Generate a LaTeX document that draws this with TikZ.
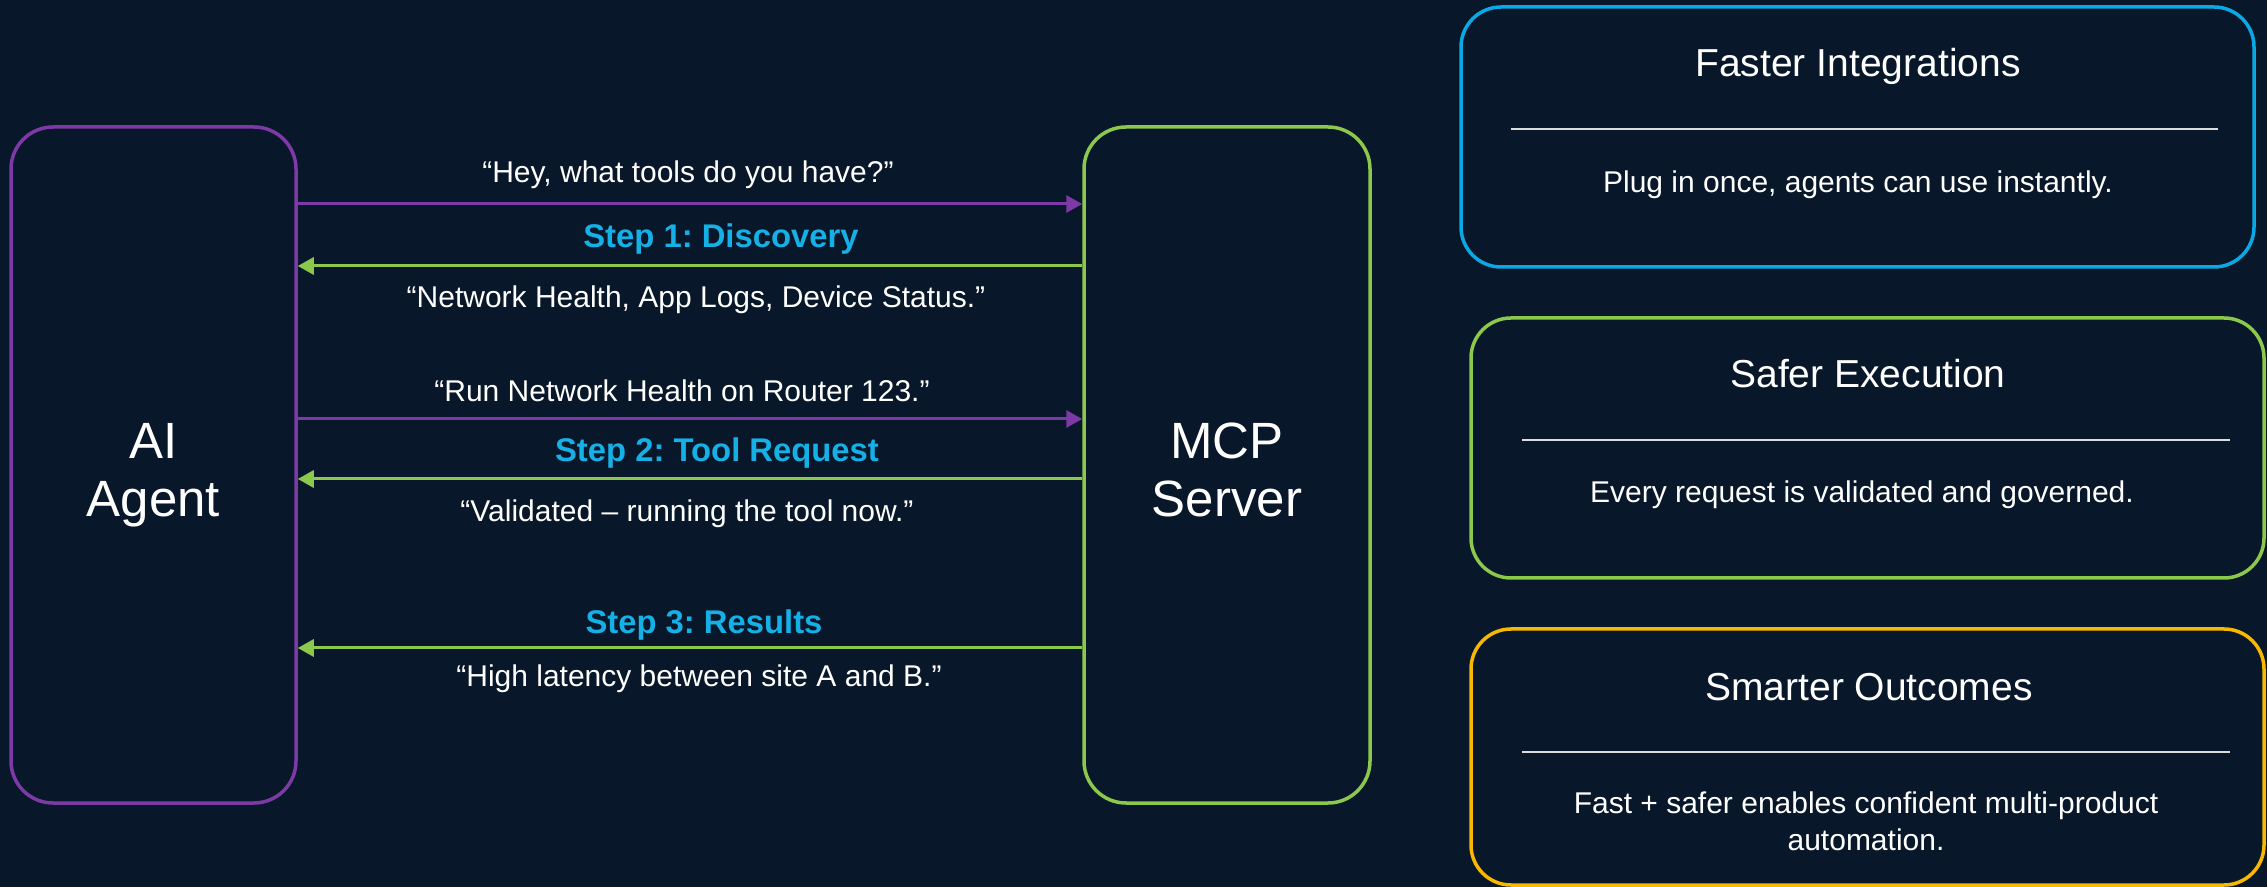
\documentclass[tikz,border=0pt]{standalone}
\usepackage{fontspec}
\setmainfont{Liberation Sans}
\usetikzlibrary{arrows.meta}
\frenchspacing
\definecolor{navy}{HTML}{081729}
\definecolor{agentpurple}{HTML}{7D3AA6}
\definecolor{mcpgreen}{HTML}{8CC84B}
\definecolor{stepblue}{HTML}{14B0E6}
\definecolor{fastblue}{HTML}{0AA8E4}
\definecolor{smartyellow}{HTML}{F9B800}
\begin{document}
\begin{tikzpicture}[x=0.5pt,y=-0.5pt,
actor/.style={
draw,
line width=1.75pt,
rounded corners=21pt,
inner sep=0pt,
minimum width=142.5pt,
minimum height=338pt,
text height=52pt,
text depth=0pt,
text=white,
align=center,
font=\fontsize{25.5}{29}\selectfont
},
ask/.style={%
draw=agentpurple,
line width=1.5pt,
-{Triangle[length=8pt,width=8.5pt]}
},
reply/.style={%
draw=mcpgreen,
line width=1.5pt,
-{Triangle[length=8pt,width=8.5pt]}
},
msg/.style={%
anchor=base,
text=white,
font=\fontsize{15}{18}\selectfont
},
stepname/.style={%
anchor=base,
text=stepblue,
font=\fontsize{16.4}{20}\selectfont\bfseries
},
card/.style={%
draw,
line width=1.75pt,
rounded corners=20pt,
inner sep=0pt,
minimum width=396.5pt,
minimum height=130pt
},
cardtitle/.style={%
anchor=base,
text=white,
font=\fontsize{19.5}{23}\selectfont
},
cardtext/.style={%
anchor=base,
text=white,
align=center,
font=\fontsize{15}{18.5}\selectfont
},
sep/.style={
draw=white!85!navy,
line width=1pt
}
]

\fill[navy](0,0)rectangle(2267,887);
\useasboundingbox(0,0)rectangle(2267,887);

%the two sides
\node[actor,draw=agentpurple](agent)at(153.5,465){AI\\Agent};
\node[actor,draw=mcpgreen,minimum width=143pt](mcp)at(1227,465){MCP\\Server};

%rows of the exchange
\coordinate(r1)at(0,204);
\coordinate(r2)at(0,266);
\coordinate(r3)at(0,419);
\coordinate(r4)at(0,479);
\coordinate(r5)at(0,648);

\draw[ask](agent.east|-r1)--(mcp.west|-r1);
\draw[reply](mcp.west|-r2)--(agent.east|-r2);
\draw[ask](agent.east|-r3)--(mcp.west|-r3);
\draw[reply](mcp.west|-r4)--(agent.east|-r4);
\draw[reply](mcp.west|-r5)--(agent.east|-r5);

\node[msg](m1)at(688,183){“Hey, what tools do you have?”};
\node[stepname](s1)at(721,248){Step 1: Discovery};
\node[msg](m2)at(696,308){“Network Health, App Logs, Device Status.”};

\node[msg](m3)at(682,402){“Run Network Health on Router 123.”};
\node[stepname](s2)at(717,462){Step 2: Tool Request};
\node[msg](m4)at(687,522){“Validated -- running the tool now.”};

\node[stepname](s3)at(704,633){Step 3: Results};
\node[msg](m5)at(699,687){“High latency between site A and B.”};

%cards on the right
\node[card,draw=fastblue](fast)at(1857.5,137){};
\node[cardtitle](fasttitle)at(1858,77){Faster Integrations};
\draw[sep](1511,129)--(2218,129);
\node[cardtext](fasttext)at(1858,193){Plug in once, agents can use instantly.};

\node[card,draw=mcpgreen](safe)at(1867.5,448){};
\node[cardtitle](safetitle)at(1868,388){Safer Execution};
\draw[sep](1522,440)--(2230,440);
\node[cardtext](safetext)at(1862,503){Every request is validated and governed.};

\node[card,draw=smartyellow,minimum height=128pt](smart)at(1867.5,757){};
\node[cardtitle](smarttitle)at(1869,701){Smarter Outcomes};
\draw[sep](1522,752)--(2230,752);
\node[cardtext](smarttext)at(1866,850){Fast + safer enables confident multi-product\\automation.};

\end{tikzpicture}
\end{document}
